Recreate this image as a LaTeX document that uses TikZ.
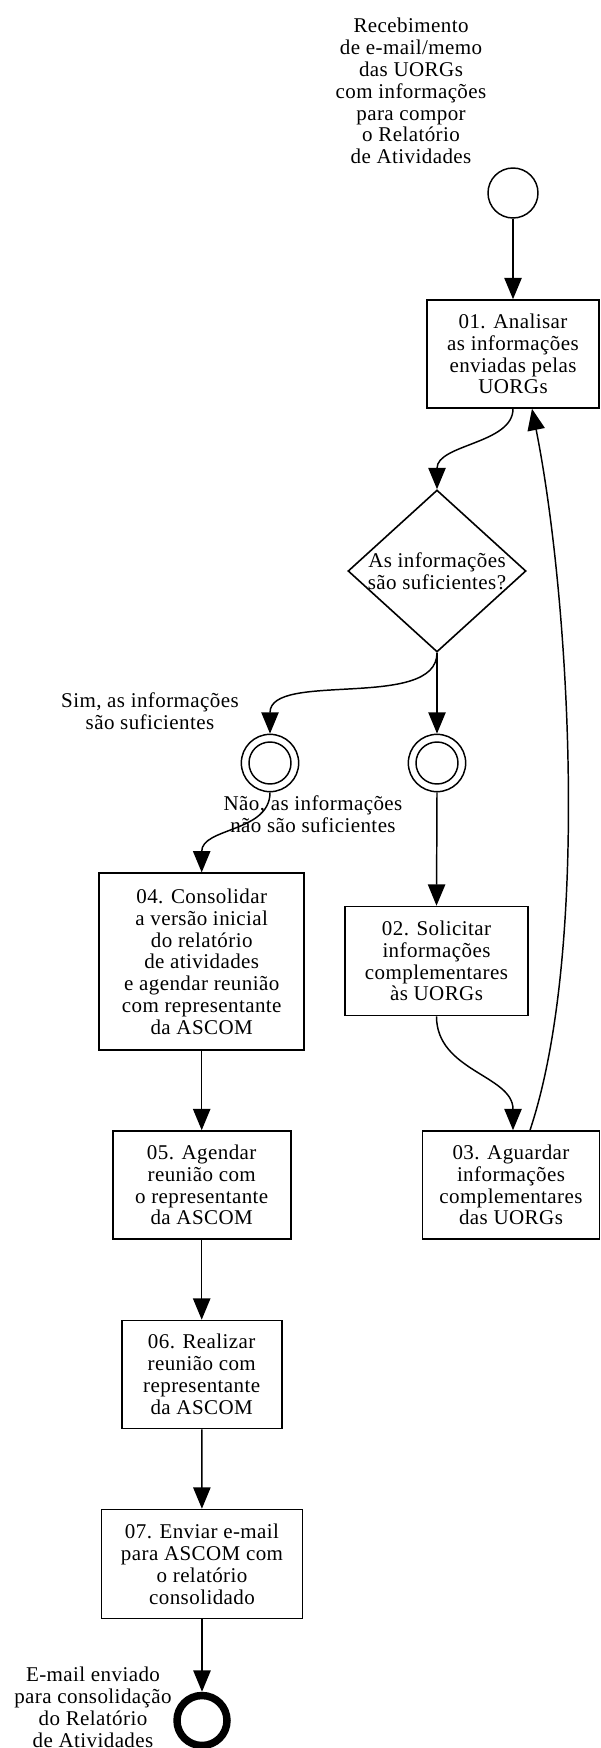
\documentclass[tikz,border=0pt]{standalone}
\usepackage{fontspec}
\setmainfont{Liberation Serif}[LetterSpace=2.0]
\usetikzlibrary{arrows.meta,shapes.geometric,calc}
\begin{document}
\begin{tikzpicture}[x=0.75pt,y=-0.75pt,
  every node/.style={font=\fontsize{15.75pt}{16.4pt}\selectfont, align=center, inner sep=0pt},
  task/.style={draw, line width=1.2pt, rectangle},
  arr/.style={line width=1.1pt, -{Triangle[length=16pt,width=13pt]}},
  startev/.style={draw, circle, line width=1.1pt, minimum size=37.5pt},
  midev/.style={draw, circle, line width=1.1pt, minimum size=43pt},
  endev/.style={draw, circle, line width=5.6pt, minimum size=37.5pt},
  lbl/.style={}]
\useasboundingbox (0,0) rectangle (600,1748);

% events
\node[startev] (start) at (513,193) {};
\node[lbl] (startlbl) at (411,91) {Recebimento\\de e-mail/memo\\das UORGs\\com informações\\para compor\\o Relatório\\de Atividades};

% tasks
\node[task, minimum width=129pt, minimum height=81pt] (b01) at (513,354) {01. Analisar\\as informações\\enviadas pelas\\UORGs};

\node[draw, diamond, line width=1.2pt, minimum width=133.5pt, minimum height=121.5pt] (dec) at (437,571) {};
\node (dectxt) at (437,571) {As informações\\são suficientes?};

\node[midev] (c1) at (270,763) {};
\draw[line width=1.1pt] (c1.center) circle[radius=15.75pt];
\node[midev] (c2) at (437,763) {};
\draw[line width=1.1pt] (c2.center) circle[radius=15.75pt];

\node[lbl] (simlbl) at (150,711) {Sim, as informações\\são suficientes};
\node[lbl] (naolbl) at (313,814) {Não, as informações\\não são suficientes};

\node[task, minimum width=153.75pt, minimum height=132.75pt] (b04) at (201.7,961.7) {04. Consolidar\\a versão inicial\\do relatório\\de atividades\\e agendar reunião\\com representante\\da ASCOM};
\node[task, minimum width=137.25pt, minimum height=81.75pt] (b02) at (436.5,961) {02. Solicitar\\informações\\complementares\\às UORGs};
\node[task, minimum width=132.75pt, minimum height=81pt] (b03) at (511,1185) {03. Aguardar\\informações\\complementares\\das UORGs};
\node[task, minimum width=133.5pt, minimum height=81pt] (b05) at (201.7,1185) {05. Agendar\\reunião com\\o representante\\da ASCOM};
\node[task, minimum width=120pt, minimum height=81pt] (b06) at (201.7,1374.5) {06. Realizar\\reunião com\\representante\\da ASCOM};
\node[task, minimum width=150.75pt, minimum height=81.75pt] (b07) at (202,1564) {07. Enviar e-mail\\para ASCOM com\\o relatório\\consolidado};

\node[endev] (end) at (202,1720.5) {};
\node[lbl] (endlbl) at (93,1707) {E-mail enviado\\para consolidação\\do Relatório\\de Atividades};

% connectors
\draw[arr] (start) -- (b01);
\draw[arr] (b01.south) .. controls +(0,35) and +(0,-45) .. (dec.north);
\draw[arr] (dec.south) -- (c2);
\draw[arr] (dec.south) .. controls +(0,58) and +(0,-63) .. (c1.north);
\draw[arr] (c1.south) .. controls +(0,40) and +(0,-45) .. (b04.north);
\draw[arr] (c2.south) -- (b02.north);
\draw[arr] (b02.south) .. controls +(0,55) and +(0,-55) .. ($(b03.north)+(2,0)$);
\draw[arr] ($(b03.north)+(19,0)$) .. controls (590,950) and (570,600) .. ($(b01.south)+(19,0)$);
\draw[arr] (b04) -- (b05);
\draw[arr] (b05) -- (b06);
\draw[arr] (b06) -- (b07);
\draw[arr] (b07) -- (end);
\end{tikzpicture}
\end{document}
